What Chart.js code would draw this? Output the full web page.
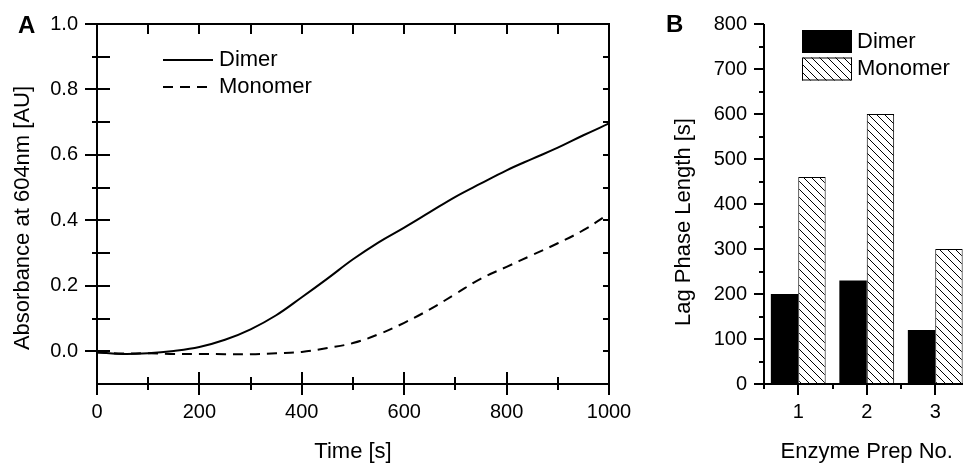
<!DOCTYPE html>
<html>
<head>
<meta charset="utf-8">
<script src="https://cdn.jsdelivr.net/npm/chart.js@4.4.1/dist/chart.umd.min.js"></script>
<style>
  html, body { margin: 0; padding: 0; background: #fff; overflow: hidden; }
  #wrap { position: relative; width: 963px; height: 463px; overflow: hidden; }
  canvas { position: absolute; top: 0; }
  #chartA { left: 0; }
  #chartB { left: 650px; }
  .panel { position: absolute; font: bold 24px "Liberation Sans", Arial, sans-serif; line-height: 1; color: #000; }
</style>
</head>
<body>
<div id="wrap">
  <canvas id="chartA" width="650" height="463"></canvas>
  <canvas id="chartB" width="330" height="463"></canvas>
  <div class="panel" style="left:18px;top:13px">A</div>
  <div class="panel" style="left:666px;top:12px">B</div>
</div>
<script>
// panel A - absorbance traces (every 50 s)
const timeS      = [0, 50, 100, 150, 200, 250, 300, 350, 400, 450, 500, 550, 600, 650, 700, 750, 800, 850, 900, 950, 1000];
const dimerAbs   = [-0.003, -0.008, -0.006, 0.001, 0.013, 0.035, 0.067, 0.11, 0.165, 0.222, 0.281, 0.333, 0.378, 0.425, 0.472, 0.513, 0.553, 0.588, 0.622, 0.66, 0.696];
const monomerAbs = [-0.004, -0.007, -0.006, -0.008, -0.008, -0.009, -0.009, -0.006, -0.002, 0.01, 0.025, 0.052, 0.087, 0.128, 0.175, 0.222, 0.258, 0.294, 0.33, 0.37, 0.42];
const absTicks   = [0, 0.2, 0.4, 0.6, 0.8, 1.0];
const timeTicks  = [0, 200, 400, 600, 800, 1000];

// panel B - lag phase
const prepLabels = ['1', '2', '3'];
const dimerLag   = [200, 230, 120];
const monomerLag = [460, 600, 300];
const lagTicks   = [0, 100, 200, 300, 400, 500, 600, 700, 800];

const FONT = '"Liberation Sans", Arial, sans-serif';

function steps(from, to, step) {
  const out = [];
  for (let v = from; v <= to + step / 1000; v += step) out.push(Math.round(v * 1000) / 1000);
  return out;
}

function hatchPattern() {
  const n = 8;
  const c = document.createElement('canvas');
  c.width = n; c.height = n;
  const g = c.getContext('2d');
  g.fillStyle = '#fff';
  g.fillRect(0, 0, n, n);
  g.strokeStyle = '#000';
  g.lineWidth = 1;
  g.beginPath();
  g.moveTo(-1, -1);    g.lineTo(n + 1, n + 1);
  g.moveTo(-1, n - 1); g.lineTo(1, n + 1);
  g.moveTo(n - 1, -1); g.lineTo(n + 1, 1);
  g.stroke();
  return document.getElementById('chartB').getContext('2d').createPattern(c, 'repeat');
}

// axis frame + in/out tick marks
const frameTicks = {
  id: 'frameTicks',
  afterDraw(chart, args, opts) {
    const { ctx, chartArea: a } = chart;
    ctx.save();
    ctx.strokeStyle = '#000';
    ctx.lineWidth = 2;
    if (opts.box) {
      ctx.strokeRect(a.left, a.top, a.right - a.left, a.bottom - a.top);
    } else {
      ctx.beginPath();
      ctx.moveTo(a.left, a.top);
      ctx.lineTo(a.left, a.bottom);
      ctx.lineTo(a.right, a.bottom);
      ctx.stroke();
    }
    (opts.marks || []).forEach(m => {
      const s = chart.scales[m.scale];
      m.values.forEach(v => {
        const p = Math.round(s.getPixelForValue(v));
        ctx.beginPath();
        if (m.side === 'bottom') { ctx.moveTo(p, a.bottom - m.inner); ctx.lineTo(p, a.bottom + m.outer); }
        else if (m.side === 'top') { ctx.moveTo(p, a.top); ctx.lineTo(p, a.top + m.inner); }
        else if (m.side === 'left') { ctx.moveTo(a.left - m.outer, p); ctx.lineTo(a.left + m.inner, p); }
        else { ctx.moveTo(a.right - m.inner, p); ctx.lineTo(a.right, p); }
        ctx.stroke();
      });
    });
    ctx.restore();
  }
};

// legend drawn inside the plot area
const insideLegend = {
  id: 'insideLegend',
  afterDraw(chart, args, o) {
    const { ctx, chartArea: a } = chart;
    ctx.save();
    ctx.font = o.font;
    ctx.textBaseline = 'middle';
    chart.data.datasets.forEach((ds, i) => {
      const x = a.left + o.x, y = a.top + o.y + i * o.rowH;
      if (o.kind === 'line') {
        ctx.strokeStyle = ds.borderColor;
        ctx.lineWidth = ds.borderWidth;
        ctx.setLineDash(ds.borderDash || []);
        ctx.beginPath();
        ctx.moveTo(x, y);
        ctx.lineTo(x + o.sampleW, y);
        ctx.stroke();
        ctx.setLineDash([]);
      } else {
        ctx.fillStyle = ds.backgroundColor;
        ctx.fillRect(x, y - o.boxH / 2, o.sampleW, o.boxH);
        ctx.strokeStyle = '#000';
        ctx.lineWidth = 1;
        ctx.strokeRect(x + 0.5, y - o.boxH / 2 + 0.5, o.sampleW - 1, o.boxH - 1);
      }
      ctx.fillStyle = '#000';
      ctx.fillText(ds.label, x + o.sampleW + o.gap, y);
    });
    ctx.restore();
  }
};

// rotated y-axis title
const yTitle = {
  id: 'yTitle',
  afterDraw(chart, args, o) {
    const { ctx, chartArea: a } = chart;
    ctx.save();
    ctx.font = o.font;
    ctx.fillStyle = '#000';
    ctx.textAlign = 'center';
    ctx.textBaseline = 'middle';
    ctx.translate(a.left + o.dx, a.top + o.dy);
    ctx.rotate(-Math.PI / 2);
    ctx.fillText(o.text, 0, 0);
    ctx.restore();
  }
};

new Chart(document.getElementById('chartA'), {
  type: 'line',
  data: {
    datasets: [
      {
        label: 'Dimer',
        data: timeS.map((t, k) => ({ x: t, y: dimerAbs[k] })),
        borderColor: '#000',
        borderWidth: 2,
        pointRadius: 0,
        tension: 0.4
      },
      {
        label: 'Monomer',
        data: timeS.map((t, k) => ({ x: t, y: monomerAbs[k] })),
        borderColor: '#000',
        borderWidth: 2,
        borderDash: [10, 7],
        pointRadius: 0,
        tension: 0.4
      }
    ]
  },
  options: {
    responsive: false,
    animation: false,
    layout: { padding: { top: 24, right: 41, left: 0, bottom: 0 } },
    scales: {
      x: {
        type: 'linear', min: 0, max: 1000,
        afterBuildTicks: s => { s.ticks = timeTicks.map(v => ({ value: v })); },
        afterFit: s => { s.height = 79; },
        grid: { display: false, tickLength: 11 },
        border: { display: false },
        ticks: { padding: 5, color: '#000', font: { family: FONT, size: 20 }, callback: v => String(v) },
        title: { display: true, text: 'Time [s]', color: '#000', padding: 0, font: { family: FONT, size: 22, lineHeight: 1 } }
      },
      y: {
        min: -0.1, max: 1.0,
        afterBuildTicks: s => { s.ticks = absTicks.map(v => ({ value: v })); },
        afterFit: s => { s.width = 97; },
        grid: { display: false, tickLength: 12 },
        border: { display: false },
        ticks: { padding: 7, color: '#000', font: { family: FONT, size: 20 }, callback: v => Number(v).toFixed(1) }
      }
    },
    plugins: {
      legend: { display: false },
      tooltip: { enabled: false },
      frameTicks: {
        box: true,
        marks: [
          { scale: 'x', side: 'bottom', values: timeTicks, inner: 12, outer: 11 },
          { scale: 'x', side: 'bottom', values: steps(100, 900, 200), inner: 7, outer: 6 },
          { scale: 'x', side: 'top', values: steps(100, 900, 100), inner: 10 },
          { scale: 'y', side: 'left', values: absTicks, inner: 13, outer: 12 },
          { scale: 'y', side: 'left', values: steps(0.1, 0.9, 0.2), inner: 13, outer: 5 },
          { scale: 'y', side: 'right', values: steps(0, 0.9, 0.1), inner: 6 }
        ]
      },
      insideLegend: { kind: 'line', x: 66, y: 36, rowH: 27, sampleW: 50, gap: 6, font: '22px ' + FONT },
      yTitle: { text: 'Absorbance at 604nm [AU]', dx: -74, dy: 194, font: '22px ' + FONT }
    }
  },
  plugins: [frameTicks, insideLegend, yTitle]
});

new Chart(document.getElementById('chartB'), {
  type: 'bar',
  data: {
    labels: prepLabels,
    datasets: [
      { label: 'Dimer', data: dimerLag, backgroundColor: '#000', borderWidth: 0 },
      { label: 'Monomer', data: monomerLag, backgroundColor: hatchPattern(), borderColor: '#000', borderWidth: 1 }
    ]
  },
  options: {
    responsive: false,
    animation: false,
    barPercentage: 1,
    categoryPercentage: 0.8,
    layout: { padding: { top: 24, right: 10.5, left: 0, bottom: 0 } },
    scales: {
      x: {
        afterFit: s => { s.height = 79; },
        grid: { display: false, tickLength: 11 },
        border: { display: false },
        ticks: { padding: 5, color: '#000', font: { family: FONT, size: 20 } },
        title: { display: true, text: 'Enzyme Prep No.', color: '#000', padding: 0, font: { family: FONT, size: 22, lineHeight: 1 } }
      },
      y: {
        min: 0, max: 800,
        afterBuildTicks: s => { s.ticks = lagTicks.map(v => ({ value: v })); },
        afterFit: s => { s.width = 114; },
        grid: { display: false, tickLength: 10 },
        border: { display: false },
        ticks: { padding: 7, color: '#000', font: { family: FONT, size: 20 } }
      }
    },
    plugins: {
      legend: { display: false },
      tooltip: { enabled: false },
      frameTicks: {
        box: false,
        marks: [
          { scale: 'x', side: 'bottom', values: [0, 1, 2], inner: 0, outer: 11 },
          { scale: 'x', side: 'bottom', values: [-0.5, 0.5, 1.5, 2.5], inner: 0, outer: 5 },
          { scale: 'y', side: 'left', values: lagTicks, inner: 0, outer: 10 },
          { scale: 'y', side: 'left', values: steps(50, 750, 100), inner: 0, outer: 5 }
        ]
      },
      insideLegend: { kind: 'box', x: 38, y: 17.5, rowH: 27.5, sampleW: 50, boxH: 23, gap: 5, font: '22px ' + FONT },
      yTitle: { text: 'Lag Phase Length [s]', dx: -80, dy: 198, font: '22px ' + FONT }
    }
  },
  plugins: [frameTicks, insideLegend, yTitle]
});
</script>
</body>
</html>
